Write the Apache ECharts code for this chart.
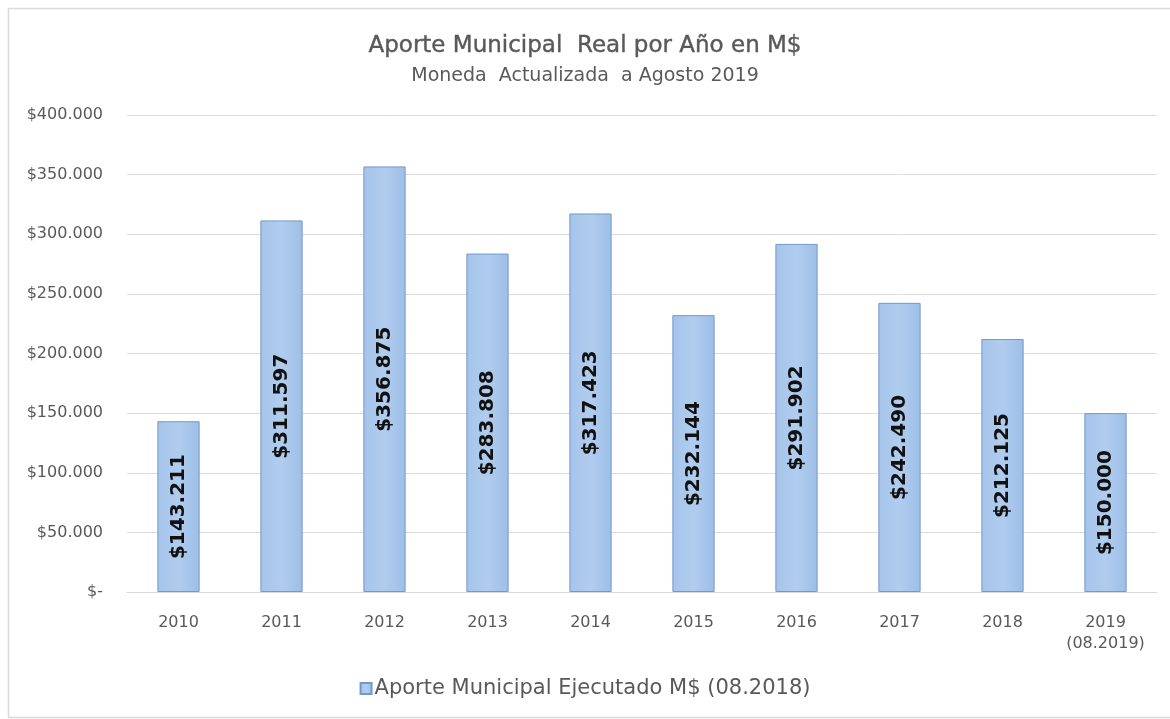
<!DOCTYPE html>
<html>
<head>
<meta charset="utf-8">
<script src="https://cdn.jsdelivr.net/npm/echarts@6/dist/echarts.min.js"></script>
<style>
html,body{margin:0;padding:0;background:#fff;}
#chart{width:1170px;height:719px;}
</style>
</head>
<body>
<div id="chart"></div>
<script>
const categories = ['2010','2011','2012','2013','2014','2015','2016','2017','2018','2019\n(08.2019)'];
const values = [143211, 311597, 356875, 283808, 317423, 232144, 291902, 242490, 212125, 150000];
const seriesName = 'Aporte Municipal Ejecutado M$ (08.2018)';
const titleText = 'Aporte Municipal  Real por Año en M$';
const subtitleText = 'Moneda  Actualizada  a Agosto 2019';

function fmt(v){
  if (v === 0) return '$-';
  return '$' + String(Math.round(v)).replace(/\B(?=(\d{3})+(?!\d))/g, '.');
}

const chart = echarts.init(document.getElementById('chart'), null, {renderer:'canvas'});
const FONT = '"DejaVu Sans", "Noto Sans", sans-serif';
chart.setOption({
  backgroundColor:'#ffffff',
  animation:false,
  graphic:[{
    type:'rect', left:6, top:6, shape:{width:1180, height:709},
    style:{fill:'none', stroke:'#d9d9d9', lineWidth:1.5}, silent:true, z:-1
  }],
  title:{
    text:titleText,
    subtext:subtitleText,
    left:'center', top:30,
    itemGap:8,
    textStyle:{fontFamily:FONT, fontSize:23, fontWeight:'normal', color:'#595959', textBorderColor:'#595959', textBorderWidth:0.4},
    subtextStyle:{fontFamily:FONT, fontSize:19, color:'#595959'}
  },
  legend:{
    bottom:15, left:'center',
    itemWidth:11, itemHeight:11, itemGap:4,
    icon:'rect',
    textStyle:{fontFamily:FONT, fontSize:21, color:'#595959', padding:[0,0,0,-2]},
    data:[seriesName]
  },
  grid:{left:127, right:13, top:115, bottom:127, containLabel:false},
  xAxis:{
    type:'category',
    data:categories,
    axisLine:{lineStyle:{color:'#d9d9d9'}},
    axisTick:{show:false},
    axisLabel:{fontFamily:FONT, fontSize:16, color:'#595959', margin:20, lineHeight:21}
  },
  yAxis:{
    type:'value', min:0, max:400000, interval:50000,
    axisLine:{show:false}, axisTick:{show:false},
    splitLine:{lineStyle:{color:'#dcdcdc', width:1}},
    axisLabel:{fontFamily:FONT, fontSize:16, color:'#595959', margin:24, formatter:fmt}
  },
  series:[{
    name:seriesName,
    type:'bar',
    data:values,
    barWidth:'41%',
    itemStyle:{
      color:new echarts.graphic.LinearGradient(0,0,1,0,[
        {offset:0,color:'#a6c4ea'},{offset:0.5,color:'#b0cdef'},{offset:1,color:'#9ebee7'}
      ]),
      borderColor:'#7398c9', borderWidth:1
    },
    label:{
      show:true, position:'inside', rotate:90,
      fontFamily:FONT, fontSize:20, fontWeight:'bold', color:'#111111',
      formatter:p=>fmt(p.value)
    }
  }]
});
</script>
</body>
</html>
